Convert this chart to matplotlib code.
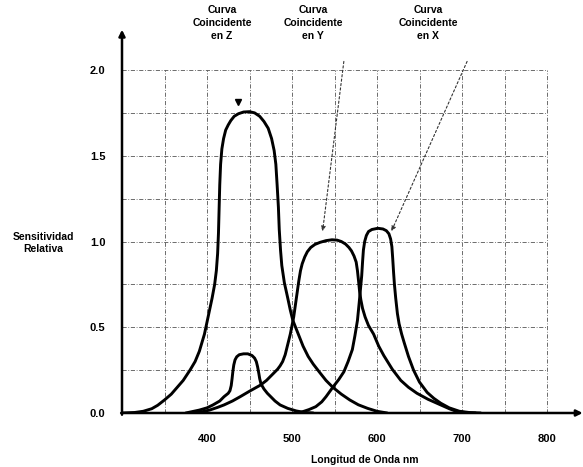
import matplotlib
matplotlib.use('Agg')
import matplotlib.pyplot as plt

# Curve values (wavelength nm, relative sensitivity)
z_nm = [300, 315, 325, 335, 342, 350, 358, 365, 372, 380, 386, 391, 397, 400, 403, 406, 409, 411, 412.5, 413.5,
        414.3, 415, 416, 417.5, 419.5, 422, 425, 428, 432, 437, 443, 450, 456, 462, 467, 472, 476, 479, 481,
        482.5, 484, 485, 486.5, 488, 491, 495, 498, 501, 507, 513, 519, 525, 532, 540, 548, 558, 568, 578, 589,
        600, 612]
z_val = [0.0, 0.003, 0.01, 0.025, 0.045, 0.076, 0.11, 0.15, 0.19, 0.25, 0.3, 0.36, 0.46, 0.53, 0.6, 0.67, 0.75, 0.83,
         0.93, 1.05, 1.2, 1.33, 1.45, 1.54, 1.6, 1.65, 1.68, 1.705, 1.73, 1.745, 1.755, 1.757, 1.75, 1.73, 1.7,
         1.66, 1.6, 1.53, 1.45, 1.33, 1.2, 1.07, 0.95, 0.86, 0.76, 0.67, 0.6, 0.54, 0.465, 0.39, 0.33, 0.285, 0.24,
         0.19, 0.15, 0.11, 0.076, 0.048, 0.027, 0.01, 0.0]

xs_nm = [375, 391, 400, 407, 415, 420, 425, 427, 428.5, 429.5, 430.5, 431.5, 433, 435, 438, 443, 448, 453, 456, 458,
         459.5, 461, 462, 463.5, 467, 471, 475, 480, 486, 495, 505, 515, 525]
xs_val = [0.0, 0.017, 0.03, 0.047, 0.07, 0.095, 0.115, 0.13, 0.16, 0.2, 0.245, 0.28, 0.31, 0.328, 0.34, 0.345,
          0.345, 0.335, 0.32, 0.3, 0.27, 0.23, 0.2, 0.17, 0.14, 0.115, 0.095, 0.07, 0.047, 0.027, 0.012, 0.003, 0.0]

xm_nm = [503, 511, 520, 528, 535, 540, 548, 555, 561, 566, 571, 574, 577, 579, 580.5, 582, 583, 584, 585.5, 587.5,
         590, 594, 601, 607, 611, 614, 616, 617.5, 618.5, 619.5, 620.5, 622, 624, 626, 629, 632, 637, 643, 650,
         659, 667, 675, 685, 697, 710, 722]
xm_val = [0.0, 0.005, 0.02, 0.037, 0.065, 0.095, 0.15, 0.195, 0.24, 0.3, 0.37, 0.45, 0.54, 0.64, 0.72, 0.8, 0.88,
          0.95, 1.0, 1.035, 1.058, 1.07, 1.077, 1.073, 1.063, 1.045, 1.015, 0.97, 0.9, 0.82, 0.75, 0.67, 0.58,
          0.52, 0.46, 0.41, 0.33, 0.25, 0.18, 0.12, 0.085, 0.057, 0.03, 0.01, 0.002, 0.0]

y_nm = [380, 392, 403, 412, 420, 430, 439, 450, 463, 470, 478, 483, 486, 489, 492, 495, 498, 500, 502, 504, 506,
        508, 510, 512, 515, 518, 522, 527, 533, 540, 547, 553, 558, 563, 567, 570, 573, 575.5, 577, 578.3, 579.5,
        581, 583, 586, 590, 596, 602, 608, 618, 628, 637, 647, 660, 675, 685, 693, 705, 716]
y_val = [0.0, 0.005, 0.017, 0.032, 0.047, 0.07, 0.095, 0.127, 0.163, 0.19, 0.23, 0.255, 0.275, 0.3, 0.34, 0.4, 0.46,
         0.51, 0.56, 0.63, 0.7, 0.77, 0.83, 0.87, 0.91, 0.94, 0.965, 0.983, 0.995, 1.005, 1.01, 1.008, 1.0, 0.985,
         0.965, 0.945, 0.915, 0.88, 0.83, 0.77, 0.71, 0.66, 0.61, 0.56, 0.51, 0.46, 0.39, 0.335, 0.255, 0.19,
         0.15, 0.115, 0.08, 0.047, 0.025, 0.01, 0.002, 0.0]

x_ticks = [400, 500, 600, 700, 800]
y_ticks = [0.0, 0.5, 1.0, 1.5, 2.0]
x_grid = [350, 400, 450, 500, 550, 600, 650, 700, 750, 800]
y_grid = [0.25, 0.5, 0.75, 1.0, 1.25, 1.5, 1.75, 2.0]

plt.rcParams['font.family'] = ['Liberation Sans', 'DejaVu Sans']

W, H = 583, 467
fig = plt.figure(figsize=(W / 100, H / 100), dpi=100)
# axes placed so 300 nm -> px 122, 0.0 -> px 413
x0, y0 = 122, 413
px_nm = 0.85
px_unit = 171.5
xmax, ymax = 845, 2.3
ax = fig.add_axes([x0 / W, (H - y0) / H, (xmax - 300) * px_nm / W, ymax * px_unit / H])
ax.set_xlim(300, xmax)
ax.set_ylim(0, ymax)
for s in ax.spines.values():
    s.set_visible(False)

# grid
gkw = dict(color='#555555', lw=0.6, linestyle=(0, (5, 2, 1, 2)))
ax.hlines(y_grid, 300, 800, **gkw)
ax.vlines(x_grid, 0, 2.0, **gkw)

# curves
for xs, ys in [(z_nm, z_val), (xs_nm, xs_val), (xm_nm, xm_val), (y_nm, y_val)]:
    ax.plot(xs, ys, color='black', lw=2.1, solid_joinstyle='round', solid_capstyle='round')

# axis lines with arrows
akw = dict(arrowstyle='-|>', color='black', lw=1.8, mutation_scale=9, shrinkA=0, shrinkB=0)
ax.annotate('', xy=(300, 2.235), xytext=(300, -0.01), arrowprops=akw, annotation_clip=False)
ax.annotate('', xy=(842, 0), xytext=(299, 0), arrowprops=akw, annotation_clip=False)

# ticks
ax.set_xticks(x_ticks)
ax.set_xticklabels([str(t) for t in x_ticks])
ax.set_yticks(y_ticks)
ax.set_yticklabels(['%.1f' % t for t in y_ticks])
ax.tick_params(length=0, labelsize=8)
ax.tick_params(axis='x', pad=15)
ax.tick_params(axis='y', pad=12)
for lab in ax.get_xticklabels() + ax.get_yticklabels():
    lab.set_fontweight('bold')

fig.text(365 / W, 1 - 460 / H, 'Longitud de Onda nm', ha='center', va='center', fontsize=7.5, fontweight='bold')
fig.text(43 / W, 1 - 243 / H, 'Sensitividad\nRelativa', ha='center', va='center', fontsize=7.5,
         fontweight='bold', linespacing=1.2)

# curve labels
for cx, name in [(222, 'Z'), (313, 'Y'), (428, 'X')]:
    fig.text(cx / W, 1 - 5 / H, 'Curva\nCoincidente\nen ' + name, ha='center', va='top', fontsize=7.5,
             fontweight='bold', linespacing=1.35)

lkw = dict(arrowstyle='-|>', color='#333333', lw=0.8, linestyle=(0, (2, 2)), mutation_scale=7,
           shrinkA=0, shrinkB=0)
ax.annotate('', xy=(536, 1.06), xytext=(561, 2.05), arrowprops=lkw)
ax.annotate('', xy=(617, 1.06), xytext=(706, 2.05), arrowprops=lkw)
ax.plot([436], [1.815], marker='v', color='black', ms=4)

fig.savefig('out.png', dpi=100)
